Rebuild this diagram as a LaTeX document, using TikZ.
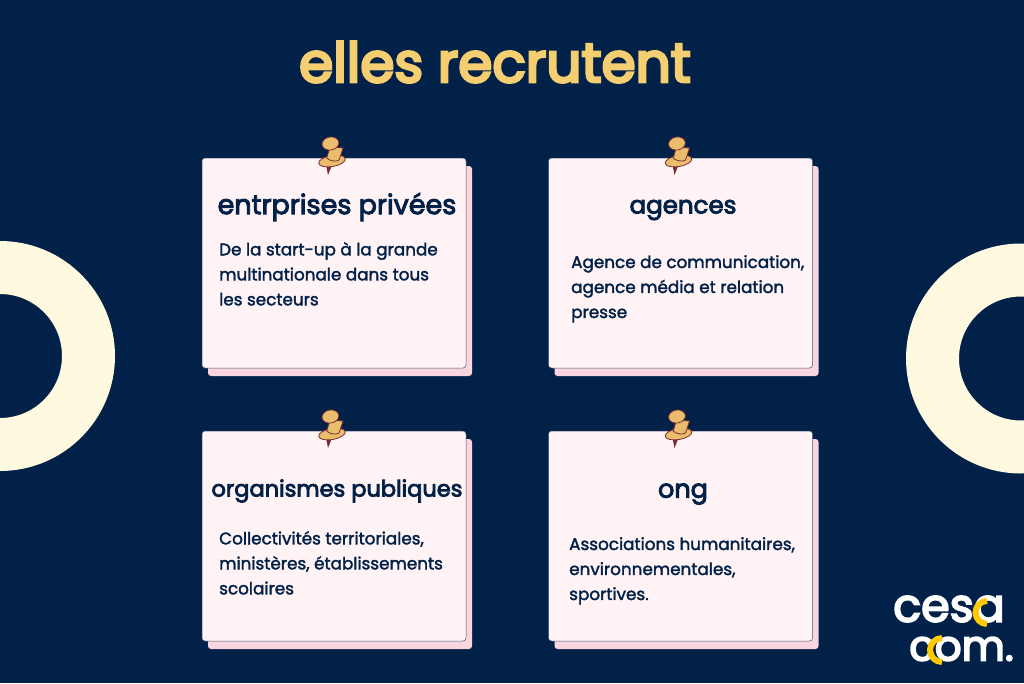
\documentclass[tikz,border=0pt]{standalone}
\usepackage{fontspec}
\setmainfont{Poppins}
\newfontfamily\bodyfont[FakeBold=2]{Poppins}
\newfontfamily\headfont[FakeBold=3.5]{Poppins}
\newfontfamily\titlefont[FakeBold=5]{Poppins}
\newfontfamily\logofont[FakeBold=4]{Poppins}
\definecolor{navybg}{HTML}{012148}
\definecolor{cardfill}{HTML}{FFF3F5}
\definecolor{cardback}{HTML}{F9D6DF}
\definecolor{ringcol}{HTML}{FFF9DF}
\definecolor{titlecol}{HTML}{F4CE70}
\definecolor{pinfill}{HTML}{E9BD6C}
\definecolor{pinline}{HTML}{7A2B33}
\definecolor{logoyel}{HTML}{FFC800}
\tikzset{
  cardfront/.style={draw=navybg!70!cardback,line width=.5pt,fill=cardfill,rounded corners=3pt},
  cardrear/.style={fill=cardback,rounded corners=3pt},
  headtxt/.style={text=navybg,font=\headfont\fontsize{#1}{22}\selectfont,inner sep=0pt},
  bodytxt/.style={text=navybg,font=\bodyfont\fontsize{16.8}{25}\selectfont,align=left,anchor=north west,inner sep=0pt},
  logotxt/.style={text=white,font=\logofont\fontsize{#1}{48}\selectfont,inner sep=0pt},
  pinmark/.pic={
    \fill[pinline] (-6,4) -- (-4,14) -- (0,4) -- cycle;
    \draw[pinline,line width=.8pt,fill=pinfill,rotate=10] (0,0) ellipse (13.5 and 5.5);
    \draw[pinline,line width=.8pt,fill=pinfill] (-2,-14) -- (-5.3,-3) .. controls (-3,0) and (5,1) .. (7,-1) -- (11,-13) -- cycle;
    \draw[pinline,line width=.8pt,fill=pinfill,rotate=10] (1.5,-17.5) ellipse (8.5 and 6.5);
  }
}
\begin{document}
\begin{tikzpicture}[x=1pt,y=-1pt]
  \useasboundingbox (0,0) rectangle (1024,683);
  \fill[navybg] (0,0) rectangle (1024,683);

  % rings
  \fill[ringcol,even odd rule] (0,356) circle (115) (0,356) circle (62);
  \fill[ringcol,even odd rule] (1021,358.5) circle (115) (1021,358.5) circle (62);

  \node (title) at (495,62) [text=titlecol,font=\titlefont\fontsize{55}{58}\selectfont,inner sep=0pt] {elles recrutent};

  % cards
  \foreach \cx/\cy in {202/158,548.5/158,202/431,548.5/431}{
    \fill[cardrear] (\cx+6,\cy+8) rectangle +(264,210);
    \draw[cardfront] (\cx,\cy) rectangle +(264,210);
    \pic at (\cx+130,\cy+3) {pinmark};
  }

  \node[headtxt=27] (privee) at (337,207) {entrprises privées};
  \node[headtxt=24.5] (agence) at (683,210) {agences};
  \node[headtxt=22.5] (public) at (337,491) {organismes publiques};
  \node[headtxt=25.5] (ongbox) at (683,494) {ong};

  \node[bodytxt] (priveetxt) at (219,242) {De la start-up à la grande\\multinationale dans tous\\les secteurs};
  \node[bodytxt] (agencetxt) at (571,255) {Agence de communication,\\agence média et relation\\presse};
  \node[bodytxt] (publictxt) at (219,531) {Collectivités territoriales,\\ministères, établissements\\scolaires};
  \node[bodytxt] (ongtxt) at (569,537) {Associations humanitaires,\\environnementales,\\sportives.};

  % logo
  \node[logotxt=46] (logoa) at (949,609) {cesa};
  \node[logotxt=42] (logob) at (961.5,649) {com.};
  \draw[logoyel,line width=6pt] (987,601) arc (-90:-270:11.5);
  \draw[logoyel,line width=6pt] (942,638) arc (-90:-270:12);
\end{tikzpicture}
\end{document}
